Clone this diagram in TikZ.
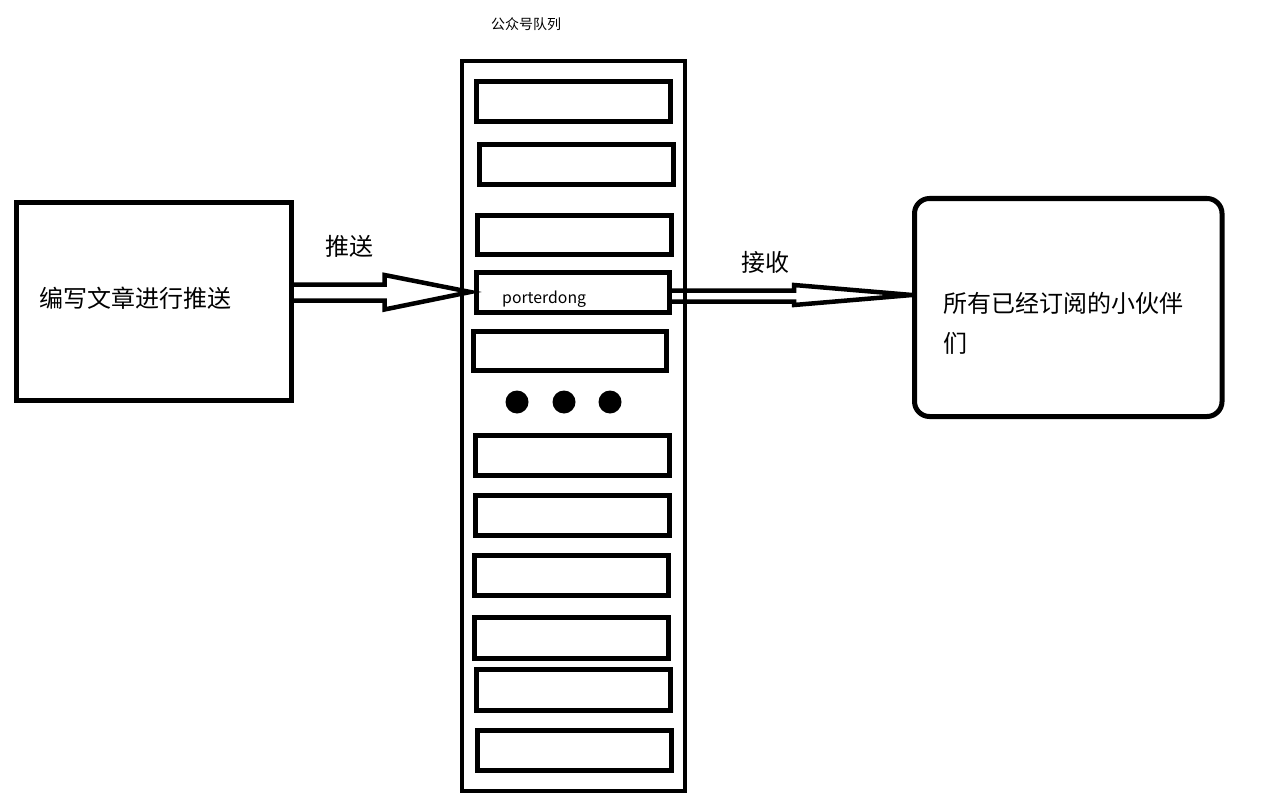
\documentclass[tikz,border=0pt]{standalone}
\usepackage{fontspec}
\newfontfamily\cjk{Noto Sans CJK SC}
\usetikzlibrary{calc}
\tikzset{
  every picture/.style={x=1pt,y=-1pt},
  bigbox/.style={draw, line width=5pt, inner sep=0pt, rectangle},
  slot/.style={draw, line width=4.5pt, inner sep=0pt, rectangle},
  qdot/.style={circle, fill=black, inner sep=0pt, minimum size=23pt},
  blockarrow/.style={draw, line width=4.5pt, line join=miter},
  big/.style={font=\cjk\fontsize{24}{40}\selectfont, inner sep=0pt},
}
\begin{document}
\begin{tikzpicture}
\fill[white] (0,0) rectangle (1276,805);
\useasboundingbox (0,0) rectangle (1276,805);

% title
\node[font=\cjk\fontsize{14}{16}\selectfont, inner sep=0pt] (title) at (526,24) {公众号队列};

% left box
\node[bigbox, minimum width=275pt, minimum height=198pt] (src) at (154,301.5) {};
\node[big, anchor=west] (srctext) at (39,298) {编写文章进行推送};

% queue
\node[bigbox, line width=4.5pt, minimum width=223pt, minimum height=730pt] (queue) at (573.5,426) {};

% slots
\node[slot, minimum width=194pt, minimum height=40pt] (s1) at (573.5,101.5) {};
\node[slot, minimum width=194pt, minimum height=40pt] (s2) at (576.5,164.5) {};
\node[slot, minimum width=194pt, minimum height=39pt] (s3) at (574.5,235) {};
\node[slot, minimum width=193pt, minimum height=40pt] (s4) at (573,292.5) {};
\node[slot, minimum width=193pt, minimum height=39pt] (s5) at (570,351) {};
\node[slot, minimum width=194pt, minimum height=40pt] (s6) at (572.5,455.5) {};
\node[slot, minimum width=194pt, minimum height=40pt] (s7) at (572.5,515.5) {};
\node[slot, minimum width=194pt, minimum height=40pt] (s8) at (571.5,575.5) {};
\node[slot, minimum width=194pt, minimum height=41pt] (s9) at (571.5,638) {};
\node[slot, minimum width=194pt, minimum height=41pt] (s10) at (573.5,690) {};
\node[slot, minimum width=194pt, minimum height=40pt] (s11) at (574.5,750.5) {};

\node[font=\cjk\fontsize{15.8}{18}\selectfont, inner sep=0pt, anchor=base west] (ptext) at (502,303) {porterdong};

% dots
\node[qdot] (d1) at (517,402) {};
\node[qdot] (d2) at (564,402) {};
\node[qdot] (d3) at (610,402) {};

% right box
\node[bigbox, rounded corners=15pt, minimum width=307.5pt, minimum height=218pt] (dst) at (1068.25,307.5) {};
\node[big, anchor=west, align=left] (dsttext) at (943,323) {所有已经订阅的小伙伴\\们};

% labels
\node[big] (push) at (349.5,246) {推送};
\node[big] (recv) at (765,262) {接收};

% left block arrow: src -> s4
\coordinate (a1tip) at ($(s4.west)+(-4,-0.5)$);
\draw[blockarrow, fill=white]
  (src.east |- 0,284.5) -- (384.5,284.5) -- (384.5,275) -- (a1tip)
  -- (384.5,309.5) -- (384.5,300.5) -- (src.east |- 0,300.5);

% right block arrow: s4 -> dst
\coordinate (a2tip) at (dst.west |- 0,295);
\draw[blockarrow]
  (s4.east |- 0,290.5) -- (794,290.5) -- (794,285) -- (a2tip)
  -- (794,305) -- (794,301.5) -- (s4.east |- 0,301.5);
\end{tikzpicture}
\end{document}
